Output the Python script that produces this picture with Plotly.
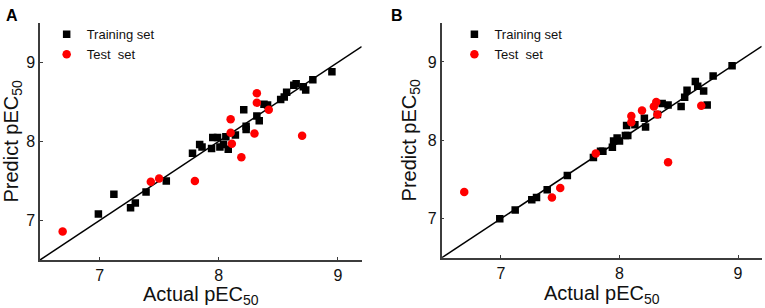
import plotly.graph_objects as go

# Panel A data
a_train_x = [6.99, 7.12, 7.26, 7.30, 7.39, 7.56, 7.78, 7.84, 7.86, 7.94, 7.95, 7.99, 8.01, 8.04, 8.06,
             8.08, 8.14, 8.21, 8.23, 8.23, 8.32, 8.34, 8.38, 8.41, 8.52, 8.55, 8.57, 8.63, 8.65, 8.71,
             8.73, 8.79, 8.95]
a_train_y = [7.08, 7.33, 7.16, 7.22, 7.36, 7.50, 7.85, 7.96, 7.93, 7.91, 8.05, 8.05, 7.93, 7.96, 8.06,
             7.90, 8.08, 8.40, 8.19, 8.15, 8.32, 8.26, 8.47, 8.46, 8.53, 8.56, 8.62, 8.71, 8.73, 8.69,
             8.65, 8.78, 8.88]
a_test_x = [6.69, 7.43, 7.50, 7.80, 8.10, 8.10, 8.11, 8.19, 8.30, 8.32, 8.32, 8.42, 8.70]
a_test_y = [6.86, 7.49, 7.53, 7.50, 8.28, 8.11, 7.97, 7.80, 8.10, 8.61, 8.49, 8.40, 8.07]

# Panel B data
b_train_x = [6.99, 7.12, 7.26, 7.30, 7.39, 7.56, 7.78, 7.84, 7.86, 7.94, 7.95, 7.98, 8.00, 8.05, 8.07,
             8.06, 8.13, 8.21, 8.22, 8.32, 8.36, 8.41, 8.52, 8.55, 8.57, 8.64, 8.66, 8.71, 8.74, 8.79,
             8.95]
b_train_y = [7.00, 7.11, 7.24, 7.27, 7.37, 7.55, 7.78, 7.86, 7.86, 7.91, 7.99, 8.03, 7.99, 8.06, 8.06,
             8.19, 8.20, 8.28, 8.17, 8.33, 8.47, 8.45, 8.43, 8.55, 8.64, 8.75, 8.69, 8.63, 8.45, 8.82,
             8.95]
b_test_x = [6.69, 7.43, 7.50, 7.80, 8.10, 8.10, 8.19, 8.29, 8.31, 8.32, 8.41, 8.69]
b_test_y = [7.34, 7.27, 7.39, 7.83, 8.31, 8.23, 8.38, 8.43, 8.49, 8.33, 7.72, 8.44]

# diagonal (y = x) reference line
diag = [6.5, 9.2]

x_ticks = [7, 8, 9]
y_ticks = [7, 8, 9]
panel_labels = ["A", "B"]
legend_names = ["Training set", "Test  set"]

FONT = "Arial, Liberation Sans, sans-serif"
fig = go.Figure()

for i, (tx, ty, sx, sy) in enumerate([(a_train_x, a_train_y, a_test_x, a_test_y),
                                      (b_train_x, b_train_y, b_test_x, b_test_y)]):
    xa = "x" if i == 0 else "x2"
    ya = "y" if i == 0 else "y2"
    lg = "legend" if i == 0 else "legend2"
    fig.add_trace(go.Scatter(x=diag, y=diag, mode="lines", line=dict(color="black", width=1.5),
                             showlegend=False, xaxis=xa, yaxis=ya, hoverinfo="skip"))
    fig.add_trace(go.Scatter(x=tx, y=ty, mode="markers", name=legend_names[0],
                             marker=dict(symbol="square", size=7.5, color="black"),
                             xaxis=xa, yaxis=ya, legend=lg))
    fig.add_trace(go.Scatter(x=sx, y=sy, mode="markers", name=legend_names[1],
                             marker=dict(symbol="circle", size=8.5, color="#ff0000"),
                             xaxis=xa, yaxis=ya, legend=lg))

axis_common = dict(showgrid=False, zeroline=False, showline=True, linecolor="#3c3c3c", linewidth=1.5,
                   ticks="inside", ticklen=3, tickcolor="#3c3c3c", tickwidth=1.2,
                   tickfont=dict(family=FONT, size=16, color="#111"), mirror=False)

fig.update_layout(
    width=765, height=308,
    margin=dict(l=0, r=0, t=0, b=0),
    paper_bgcolor="white", plot_bgcolor="white",
    font=dict(family=FONT, color="#111"),
    xaxis=dict(domain=[0.0523, 0.4728], range=[6.5, 9.2], tickvals=x_ticks, anchor="y",
               title=dict(text="Actual pEC<sub>50</sub>", font=dict(size=20), standoff=4), **axis_common),
    yaxis=dict(domain=[0.156, 0.926], range=[6.5, 9.5], tickvals=y_ticks, anchor="x",
               title=dict(text="Predict pEC<sub>50</sub>", font=dict(size=20), standoff=6), **axis_common),
    xaxis2=dict(domain=[0.5774, 0.9957], range=[6.5, 9.2], tickvals=x_ticks, anchor="y2",
                title=dict(text="Actual pEC<sub>50</sub>", font=dict(size=20), standoff=4), **axis_common),
    yaxis2=dict(domain=[0.163, 0.926], range=[6.5, 9.5], tickvals=y_ticks, anchor="x2",
                title=dict(text="Predict pEC<sub>50</sub>", font=dict(size=20), standoff=6), **axis_common),
    legend=dict(x=0.061, y=0.937, xanchor="left", yanchor="top", bgcolor="rgba(0,0,0,0)",
                font=dict(family=FONT, size=13, color="#111"), itemwidth=30, tracegroupgap=0),
    legend2=dict(x=0.594, y=0.937, xanchor="left", yanchor="top", bgcolor="rgba(0,0,0,0)",
                 font=dict(family=FONT, size=13, color="#111"), itemwidth=30, tracegroupgap=0),
    annotations=[
        dict(text="<b>%s</b>" % panel_labels[0], x=0.005, y=0.985, xref="paper", yref="paper",
             xanchor="left", yanchor="top", showarrow=False, font=dict(family=FONT, size=16, color="black")),
        dict(text="<b>%s</b>" % panel_labels[1], x=0.508, y=0.985, xref="paper", yref="paper",
             xanchor="left", yanchor="top", showarrow=False, font=dict(family=FONT, size=16, color="black")),
    ],
)

fig.write_html("out.html", config={"displayModeBar": False},
               post_script="document.body.style.margin='0';document.body.style.overflow='hidden';")
